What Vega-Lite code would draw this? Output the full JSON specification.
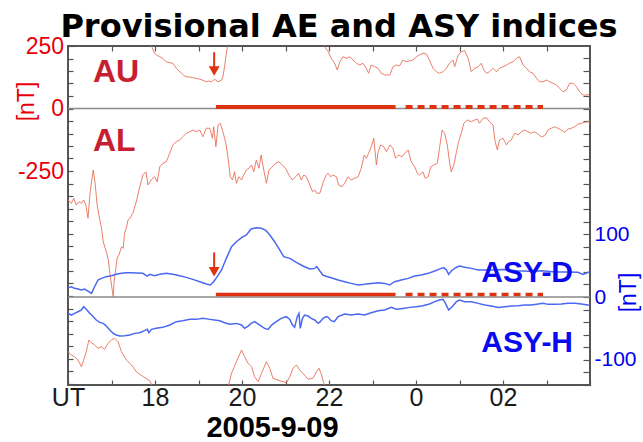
{
  "$schema": "https://vega.github.io/schema/vega-lite/v6.json",
  "width": 522,
  "height": 339,
  "autosize": {"type": "none"},
  "padding": {"left": 68, "top": 46, "right": 53, "bottom": 57},
  "background": "white",
  "config": {"view": {"stroke": "#555555", "strokeWidth": 2}, "font": "Liberation Sans"},
  "title": {"text": "Provisional AE and ASY indices", "font": "DejaVu Sans", "fontSize": 32, "fontWeight": "bold", "color": "black", "anchor": "middle", "dx": 10, "dy": 43, "offset": 9, "baseline": "alphabetic"},
  "datasets": {
    "ae": [
      {"h":17.90,"v":262,"s":"AU1"},{"h":17.93,"v":245,"s":"AU1"},{"h":17.99,"v":221,"s":"AU1"},{"h":18.05,"v":212,"s":"AU1"},{"h":18.11,"v":207,"s":"AU1"},{"h":18.18,"v":200,"s":"AU1"},{"h":18.26,"v":187,"s":"AU1"},{"h":18.34,"v":183,"s":"AU1"},{"h":18.41,"v":181,"s":"AU1"},{"h":18.49,"v":161,"s":"AU1"},{"h":18.55,"v":150,"s":"AU1"},{"h":18.61,"v":141,"s":"AU1"},{"h":18.66,"v":132,"s":"AU1"},{"h":18.72,"v":127,"s":"AU1"},{"h":18.80,"v":126,"s":"AU1"},{"h":18.87,"v":123,"s":"AU1"},{"h":18.95,"v":121,"s":"AU1"},{"h":19.03,"v":117,"s":"AU1"},{"h":19.10,"v":113,"s":"AU1"},{"h":19.18,"v":107,"s":"AU1"},{"h":19.24,"v":110,"s":"AU1"},{"h":19.30,"v":107,"s":"AU1"},{"h":19.37,"v":117,"s":"AU1"},{"h":19.45,"v":107,"s":"AU1"},{"h":19.53,"v":113,"s":"AU1"},{"h":19.56,"v":127,"s":"AU1"},{"h":19.60,"v":167,"s":"AU1"},{"h":19.64,"v":221,"s":"AU1"},{"h":19.68,"v":262,"s":"AU1"},
      {"h":21.88,"v":262,"s":"AU2"},{"h":21.90,"v":247,"s":"AU2"},{"h":21.98,"v":227,"s":"AU2"},{"h":22.05,"v":201,"s":"AU2"},{"h":22.13,"v":181,"s":"AU2"},{"h":22.19,"v":154,"s":"AU2"},{"h":22.25,"v":187,"s":"AU2"},{"h":22.32,"v":207,"s":"AU2"},{"h":22.40,"v":201,"s":"AU2"},{"h":22.48,"v":207,"s":"AU2"},{"h":22.55,"v":194,"s":"AU2"},{"h":22.63,"v":181,"s":"AU2"},{"h":22.71,"v":174,"s":"AU2"},{"h":22.78,"v":181,"s":"AU2"},{"h":22.86,"v":161,"s":"AU2"},{"h":22.91,"v":141,"s":"AU2"},{"h":22.97,"v":174,"s":"AU2"},{"h":23.05,"v":167,"s":"AU2"},{"h":23.13,"v":161,"s":"AU2"},{"h":23.20,"v":141,"s":"AU2"},{"h":23.28,"v":134,"s":"AU2"},{"h":23.40,"v":134,"s":"AU2"},{"h":23.47,"v":167,"s":"AU2"},{"h":23.55,"v":174,"s":"AU2"},{"h":23.62,"v":170,"s":"AU2"},{"h":23.70,"v":194,"s":"AU2"},{"h":23.78,"v":187,"s":"AU2"},{"h":23.86,"v":191,"s":"AU2"},{"h":23.93,"v":194,"s":"AU2"},{"h":24.01,"v":207,"s":"AU2"},{"h":24.08,"v":214,"s":"AU2"},{"h":24.16,"v":221,"s":"AU2"},{"h":24.24,"v":218,"s":"AU2"},{"h":24.31,"v":194,"s":"AU2"},{"h":24.39,"v":161,"s":"AU2"},{"h":24.47,"v":147,"s":"AU2"},{"h":24.54,"v":141,"s":"AU2"},{"h":24.62,"v":147,"s":"AU2"},{"h":24.70,"v":161,"s":"AU2"},{"h":24.77,"v":181,"s":"AU2"},{"h":24.85,"v":194,"s":"AU2"},{"h":24.89,"v":167,"s":"AU2"},{"h":24.97,"v":214,"s":"AU2"},{"h":25.04,"v":227,"s":"AU2"},{"h":25.12,"v":231,"s":"AU2"},{"h":25.20,"v":201,"s":"AU2"},{"h":25.27,"v":147,"s":"AU2"},{"h":25.35,"v":161,"s":"AU2"},{"h":25.43,"v":167,"s":"AU2"},{"h":25.50,"v":181,"s":"AU2"},{"h":25.56,"v":154,"s":"AU2"},{"h":25.62,"v":141,"s":"AU2"},{"h":25.69,"v":147,"s":"AU2"},{"h":25.77,"v":161,"s":"AU2"},{"h":25.85,"v":147,"s":"AU2"},{"h":25.92,"v":161,"s":"AU2"},{"h":26.00,"v":167,"s":"AU2"},{"h":26.08,"v":174,"s":"AU2"},{"h":26.15,"v":181,"s":"AU2"},{"h":26.23,"v":187,"s":"AU2"},{"h":26.31,"v":201,"s":"AU2"},{"h":26.38,"v":207,"s":"AU2"},{"h":26.46,"v":174,"s":"AU2"},{"h":26.54,"v":161,"s":"AU2"},{"h":26.61,"v":147,"s":"AU2"},{"h":26.69,"v":141,"s":"AU2"},{"h":26.77,"v":121,"s":"AU2"},{"h":26.84,"v":107,"s":"AU2"},{"h":26.92,"v":107,"s":"AU2"},{"h":27.00,"v":114,"s":"AU2"},{"h":27.07,"v":107,"s":"AU2"},{"h":27.15,"v":101,"s":"AU2"},{"h":27.23,"v":94,"s":"AU2"},{"h":27.30,"v":81,"s":"AU2"},{"h":27.38,"v":67,"s":"AU2"},{"h":27.46,"v":74,"s":"AU2"},{"h":27.53,"v":101,"s":"AU2"},{"h":27.61,"v":101,"s":"AU2"},{"h":27.69,"v":87,"s":"AU2"},{"h":27.76,"v":67,"s":"AU2"},{"h":27.84,"v":54,"s":"AU2"},{"h":27.92,"v":54,"s":"AU2"},{"h":28.00,"v":58,"s":"AU2"},
      {"h":16.00,"v":-973,"s":"AUw1"},{"h":16.08,"v":-986,"s":"AUw1"},{"h":16.15,"v":-993,"s":"AUw1"},{"h":16.23,"v":-1006,"s":"AUw1"},{"h":16.31,"v":-1033,"s":"AUw1"},{"h":16.36,"v":-1006,"s":"AUw1"},{"h":16.42,"v":-973,"s":"AUw1"},{"h":16.48,"v":-926,"s":"AUw1"},{"h":16.54,"v":-937,"s":"AUw1"},{"h":16.61,"v":-946,"s":"AUw1"},{"h":16.69,"v":-959,"s":"AUw1"},{"h":16.77,"v":-953,"s":"AUw1"},{"h":16.84,"v":-963,"s":"AUw1"},{"h":16.92,"v":-939,"s":"AUw1"},{"h":17.00,"v":-926,"s":"AUw1"},{"h":17.07,"v":-919,"s":"AUw1"},{"h":17.15,"v":-933,"s":"AUw1"},{"h":17.23,"v":-973,"s":"AUw1"},{"h":17.34,"v":-1006,"s":"AUw1"},{"h":17.46,"v":-1026,"s":"AUw1"},{"h":17.57,"v":-1053,"s":"AUw1"},{"h":17.73,"v":-1073,"s":"AUw1"},{"h":17.88,"v":-1089,"s":"AUw1"},{"h":17.95,"v":-1115,"s":"AUw1"},
      {"h":19.68,"v":-1115,"s":"AUw2"},{"h":19.76,"v":-1059,"s":"AUw2"},{"h":19.87,"v":-1013,"s":"AUw2"},{"h":19.99,"v":-966,"s":"AUw2"},{"h":20.06,"v":-993,"s":"AUw2"},{"h":20.14,"v":-1019,"s":"AUw2"},{"h":20.22,"v":-1033,"s":"AUw2"},{"h":20.29,"v":-1073,"s":"AUw2"},{"h":20.37,"v":-1093,"s":"AUw2"},{"h":20.45,"v":-1059,"s":"AUw2"},{"h":20.56,"v":-1013,"s":"AUw2"},{"h":20.64,"v":-1039,"s":"AUw2"},{"h":20.71,"v":-1079,"s":"AUw2"},{"h":20.87,"v":-1089,"s":"AUw2"},{"h":21.02,"v":-1097,"s":"AUw2"},{"h":21.10,"v":-1073,"s":"AUw2"},{"h":21.17,"v":-1039,"s":"AUw2"},{"h":21.25,"v":-1026,"s":"AUw2"},{"h":21.33,"v":-1046,"s":"AUw2"},{"h":21.40,"v":-1059,"s":"AUw2"},{"h":21.52,"v":-1083,"s":"AUw2"},{"h":21.63,"v":-1079,"s":"AUw2"},{"h":21.71,"v":-1053,"s":"AUw2"},{"h":21.77,"v":-1039,"s":"AUw2"},{"h":21.83,"v":-1066,"s":"AUw2"},{"h":21.87,"v":-1093,"s":"AUw2"},{"h":21.91,"v":-1115,"s":"AUw2"},
      {"h":16.00,"v":-366,"s":"AL"},{"h":16.08,"v":-379,"s":"AL"},{"h":16.13,"v":-359,"s":"AL"},{"h":16.19,"v":-386,"s":"AL"},{"h":16.25,"v":-373,"s":"AL"},{"h":16.31,"v":-379,"s":"AL"},{"h":16.36,"v":-366,"s":"AL"},{"h":16.41,"v":-386,"s":"AL"},{"h":16.46,"v":-439,"s":"AL"},{"h":16.51,"v":-333,"s":"AL"},{"h":16.58,"v":-246,"s":"AL"},{"h":16.62,"v":-293,"s":"AL"},{"h":16.67,"v":-386,"s":"AL"},{"h":16.71,"v":-426,"s":"AL"},{"h":16.77,"v":-479,"s":"AL"},{"h":16.81,"v":-533,"s":"AL"},{"h":16.88,"v":-573,"s":"AL"},{"h":16.92,"v":-599,"s":"AL"},{"h":16.96,"v":-653,"s":"AL"},{"h":17.00,"v":-706,"s":"AL"},{"h":17.04,"v":-753,"s":"AL"},{"h":17.06,"v":-693,"s":"AL"},{"h":17.10,"v":-639,"s":"AL"},{"h":17.13,"v":-599,"s":"AL"},{"h":17.17,"v":-586,"s":"AL"},{"h":17.23,"v":-553,"s":"AL"},{"h":17.27,"v":-559,"s":"AL"},{"h":17.30,"v":-499,"s":"AL"},{"h":17.34,"v":-479,"s":"AL"},{"h":17.38,"v":-446,"s":"AL"},{"h":17.42,"v":-440,"s":"AL"},{"h":17.49,"v":-419,"s":"AL"},{"h":17.57,"v":-373,"s":"AL"},{"h":17.65,"v":-313,"s":"AL"},{"h":17.72,"v":-266,"s":"AL"},{"h":17.79,"v":-253,"s":"AL"},{"h":17.84,"v":-306,"s":"AL"},{"h":17.91,"v":-286,"s":"AL"},{"h":17.99,"v":-273,"s":"AL"},{"h":18.05,"v":-293,"s":"AL"},{"h":18.11,"v":-233,"s":"AL"},{"h":18.18,"v":-219,"s":"AL"},{"h":18.26,"v":-213,"s":"AL"},{"h":18.34,"v":-179,"s":"AL"},{"h":18.41,"v":-146,"s":"AL"},{"h":18.49,"v":-133,"s":"AL"},{"h":18.57,"v":-126,"s":"AL"},{"h":18.64,"v":-113,"s":"AL"},{"h":18.72,"v":-99,"s":"AL"},{"h":18.80,"v":-93,"s":"AL"},{"h":18.87,"v":-86,"s":"AL"},{"h":18.95,"v":-93,"s":"AL"},{"h":19.03,"v":-86,"s":"AL"},{"h":19.10,"v":-113,"s":"AL"},{"h":19.18,"v":-79,"s":"AL"},{"h":19.26,"v":-79,"s":"AL"},{"h":19.32,"v":-119,"s":"AL"},{"h":19.35,"v":-73,"s":"AL"},{"h":19.40,"v":-153,"s":"AL"},{"h":19.45,"v":-66,"s":"AL"},{"h":19.50,"v":-59,"s":"AL"},{"h":19.56,"v":-93,"s":"AL"},{"h":19.63,"v":-139,"s":"AL"},{"h":19.68,"v":-199,"s":"AL"},{"h":19.73,"v":-273,"s":"AL"},{"h":19.78,"v":-286,"s":"AL"},{"h":19.83,"v":-253,"s":"AL"},{"h":19.87,"v":-299,"s":"AL"},{"h":19.93,"v":-273,"s":"AL"},{"h":19.99,"v":-286,"s":"AL"},{"h":20.04,"v":-266,"s":"AL"},{"h":20.10,"v":-246,"s":"AL"},{"h":20.16,"v":-239,"s":"AL"},{"h":20.22,"v":-226,"s":"AL"},{"h":20.27,"v":-253,"s":"AL"},{"h":20.33,"v":-206,"s":"AL"},{"h":20.39,"v":-239,"s":"AL"},{"h":20.44,"v":-186,"s":"AL"},{"h":20.50,"v":-246,"s":"AL"},{"h":20.56,"v":-299,"s":"AL"},{"h":20.62,"v":-246,"s":"AL"},{"h":20.70,"v":-233,"s":"AL"},{"h":20.77,"v":-219,"s":"AL"},{"h":20.85,"v":-213,"s":"AL"},{"h":20.93,"v":-226,"s":"AL"},{"h":21.00,"v":-239,"s":"AL"},{"h":21.08,"v":-266,"s":"AL"},{"h":21.16,"v":-286,"s":"AL"},{"h":21.23,"v":-273,"s":"AL"},{"h":21.30,"v":-259,"s":"AL"},{"h":21.36,"v":-286,"s":"AL"},{"h":21.42,"v":-266,"s":"AL"},{"h":21.48,"v":-273,"s":"AL"},{"h":21.56,"v":-306,"s":"AL"},{"h":21.62,"v":-333,"s":"AL"},{"h":21.67,"v":-326,"s":"AL"},{"h":21.72,"v":-339,"s":"AL"},{"h":21.79,"v":-339,"s":"AL"},{"h":21.87,"v":-293,"s":"AL"},{"h":21.94,"v":-265,"s":"AL"},{"h":21.98,"v":-259,"s":"AL"},{"h":22.04,"v":-273,"s":"AL"},{"h":22.09,"v":-266,"s":"AL"},{"h":22.17,"v":-273,"s":"AL"},{"h":22.22,"v":-306,"s":"AL"},{"h":22.30,"v":-313,"s":"AL"},{"h":22.36,"v":-299,"s":"AL"},{"h":22.44,"v":-273,"s":"AL"},{"h":22.51,"v":-286,"s":"AL"},{"h":22.59,"v":-279,"s":"AL"},{"h":22.67,"v":-273,"s":"AL"},{"h":22.74,"v":-239,"s":"AL"},{"h":22.81,"v":-186,"s":"AL"},{"h":22.86,"v":-199,"s":"AL"},{"h":22.91,"v":-179,"s":"AL"},{"h":22.97,"v":-153,"s":"AL"},{"h":23.03,"v":-119,"s":"AL"},{"h":23.09,"v":-226,"s":"AL"},{"h":23.13,"v":-173,"s":"AL"},{"h":23.19,"v":-146,"s":"AL"},{"h":23.26,"v":-153,"s":"AL"},{"h":23.32,"v":-173,"s":"AL"},{"h":23.40,"v":-146,"s":"AL"},{"h":23.47,"v":-159,"s":"AL"},{"h":23.53,"v":-199,"s":"AL"},{"h":23.60,"v":-186,"s":"AL"},{"h":23.68,"v":-193,"s":"AL"},{"h":23.74,"v":-179,"s":"AL"},{"h":23.82,"v":-166,"s":"AL"},{"h":23.89,"v":-213,"s":"AL"},{"h":23.97,"v":-233,"s":"AL"},{"h":24.03,"v":-259,"s":"AL"},{"h":24.08,"v":-266,"s":"AL"},{"h":24.16,"v":-253,"s":"AL"},{"h":24.21,"v":-279,"s":"AL"},{"h":24.28,"v":-273,"s":"AL"},{"h":24.34,"v":-233,"s":"AL"},{"h":24.41,"v":-226,"s":"AL"},{"h":24.49,"v":-219,"s":"AL"},{"h":24.54,"v":-159,"s":"AL"},{"h":24.60,"v":-86,"s":"AL"},{"h":24.66,"v":-99,"s":"AL"},{"h":24.72,"v":-146,"s":"AL"},{"h":24.77,"v":-213,"s":"AL"},{"h":24.81,"v":-253,"s":"AL"},{"h":24.87,"v":-226,"s":"AL"},{"h":24.93,"v":-173,"s":"AL"},{"h":24.98,"v":-133,"s":"AL"},{"h":25.04,"v":-99,"s":"AL"},{"h":25.10,"v":-59,"s":"AL"},{"h":25.18,"v":-46,"s":"AL"},{"h":25.27,"v":-53,"s":"AL"},{"h":25.35,"v":-46,"s":"AL"},{"h":25.41,"v":-42,"s":"AL"},{"h":25.46,"v":-59,"s":"AL"},{"h":25.54,"v":-39,"s":"AL"},{"h":25.62,"v":-37,"s":"AL"},{"h":25.69,"v":-53,"s":"AL"},{"h":25.77,"v":-66,"s":"AL"},{"h":25.82,"v":-133,"s":"AL"},{"h":25.87,"v":-166,"s":"AL"},{"h":25.92,"v":-126,"s":"AL"},{"h":26.00,"v":-119,"s":"AL"},{"h":26.08,"v":-146,"s":"AL"},{"h":26.13,"v":-133,"s":"AL"},{"h":26.19,"v":-126,"s":"AL"},{"h":26.27,"v":-99,"s":"AL"},{"h":26.35,"v":-106,"s":"AL"},{"h":26.42,"v":-93,"s":"AL"},{"h":26.50,"v":-86,"s":"AL"},{"h":26.57,"v":-93,"s":"AL"},{"h":26.65,"v":-99,"s":"AL"},{"h":26.73,"v":-93,"s":"AL"},{"h":26.81,"v":-103,"s":"AL"},{"h":26.88,"v":-113,"s":"AL"},{"h":26.96,"v":-109,"s":"AL"},{"h":27.03,"v":-86,"s":"AL"},{"h":27.11,"v":-79,"s":"AL"},{"h":27.19,"v":-73,"s":"AL"},{"h":27.26,"v":-79,"s":"AL"},{"h":27.34,"v":-86,"s":"AL"},{"h":27.42,"v":-95,"s":"AL"},{"h":27.50,"v":-82,"s":"AL"},{"h":27.57,"v":-79,"s":"AL"},{"h":27.65,"v":-73,"s":"AL"},{"h":27.72,"v":-63,"s":"AL"},{"h":27.80,"v":-59,"s":"AL"},{"h":27.88,"v":-55,"s":"AL"},{"h":27.95,"v":-53,"s":"AL"},{"h":28.00,"v":-52,"s":"AL"}
    ],
    "asy": [
      {"h":16.00,"v":14.8,"s":"D"},{"h":16.08,"v":16.4,"s":"D"},{"h":16.15,"v":13.8,"s":"D"},{"h":16.23,"v":12.7,"s":"D"},{"h":16.31,"v":11.1,"s":"D"},{"h":16.38,"v":12.7,"s":"D"},{"h":16.46,"v":9.5,"s":"D"},{"h":16.54,"v":5.8,"s":"D"},{"h":16.61,"v":16.4,"s":"D"},{"h":16.69,"v":27.1,"s":"D"},{"h":16.77,"v":29.7,"s":"D"},{"h":16.88,"v":32.4,"s":"D"},{"h":17.00,"v":34.0,"s":"D"},{"h":17.11,"v":36.1,"s":"D"},{"h":17.23,"v":37.7,"s":"D"},{"h":17.34,"v":38.7,"s":"D"},{"h":17.46,"v":38.7,"s":"D"},{"h":17.57,"v":38.2,"s":"D"},{"h":17.72,"v":37.7,"s":"D"},{"h":17.82,"v":33.4,"s":"D"},{"h":17.88,"v":36.1,"s":"D"},{"h":17.99,"v":34.0,"s":"D"},{"h":18.11,"v":36.1,"s":"D"},{"h":18.26,"v":37.7,"s":"D"},{"h":18.41,"v":36.1,"s":"D"},{"h":18.57,"v":34.0,"s":"D"},{"h":18.72,"v":31.3,"s":"D"},{"h":18.87,"v":28.1,"s":"D"},{"h":19.03,"v":24.4,"s":"D"},{"h":19.18,"v":20.7,"s":"D"},{"h":19.27,"v":19.1,"s":"D"},{"h":19.35,"v":24.4,"s":"D"},{"h":19.43,"v":32.4,"s":"D"},{"h":19.53,"v":43.0,"s":"D"},{"h":19.64,"v":61.6,"s":"D"},{"h":19.76,"v":80.2,"s":"D"},{"h":19.87,"v":88.1,"s":"D"},{"h":19.99,"v":94.5,"s":"D"},{"h":20.10,"v":98.7,"s":"D"},{"h":20.21,"v":108.3,"s":"D"},{"h":20.33,"v":110.4,"s":"D"},{"h":20.44,"v":109.4,"s":"D"},{"h":20.54,"v":106.7,"s":"D"},{"h":20.64,"v":98.7,"s":"D"},{"h":20.75,"v":88.1,"s":"D"},{"h":20.87,"v":74.8,"s":"D"},{"h":20.96,"v":64.2,"s":"D"},{"h":21.10,"v":61.6,"s":"D"},{"h":21.25,"v":55.2,"s":"D"},{"h":21.40,"v":49.4,"s":"D"},{"h":21.56,"v":44.6,"s":"D"},{"h":21.67,"v":45.6,"s":"D"},{"h":21.72,"v":48.3,"s":"D"},{"h":21.79,"v":41.4,"s":"D"},{"h":21.86,"v":35.0,"s":"D"},{"h":21.93,"v":33.0,"s":"D"},{"h":22.05,"v":30.8,"s":"D"},{"h":22.21,"v":27.1,"s":"D"},{"h":22.36,"v":24.4,"s":"D"},{"h":22.51,"v":21.7,"s":"D"},{"h":22.67,"v":19.1,"s":"D"},{"h":22.82,"v":20.2,"s":"D"},{"h":22.97,"v":21.7,"s":"D"},{"h":23.13,"v":22.8,"s":"D"},{"h":23.28,"v":21.7,"s":"D"},{"h":23.39,"v":19.1,"s":"D"},{"h":23.51,"v":24.4,"s":"D"},{"h":23.66,"v":27.1,"s":"D"},{"h":23.82,"v":29.7,"s":"D"},{"h":23.97,"v":33.4,"s":"D"},{"h":24.12,"v":35.0,"s":"D"},{"h":24.28,"v":37.7,"s":"D"},{"h":24.43,"v":41.4,"s":"D"},{"h":24.58,"v":45.6,"s":"D"},{"h":24.64,"v":46.7,"s":"D"},{"h":24.70,"v":43.0,"s":"D"},{"h":24.75,"v":36.1,"s":"D"},{"h":24.81,"v":41.4,"s":"D"},{"h":24.91,"v":46.7,"s":"D"},{"h":25.00,"v":49.4,"s":"D"},{"h":25.12,"v":47.3,"s":"D"},{"h":25.27,"v":45.6,"s":"D"},{"h":25.43,"v":43.0,"s":"D"},{"h":25.70,"v":43.0,"s":"D"},{"h":26.00,"v":44.0,"s":"D"},{"h":26.30,"v":42.0,"s":"D"},{"h":26.60,"v":41.0,"s":"D"},{"h":26.90,"v":42.0,"s":"D"},{"h":27.20,"v":40.0,"s":"D"},{"h":27.50,"v":40.0,"s":"D"},{"h":27.72,"v":39.3,"s":"D"},{"h":27.84,"v":36.1,"s":"D"},{"h":27.96,"v":39.3,"s":"D"},{"h":28.00,"v":40.0,"s":"D"},
      {"h":16.00,"v":-26.0,"s":"H"},{"h":16.08,"v":-28.7,"s":"H"},{"h":16.15,"v":-26.0,"s":"H"},{"h":16.23,"v":-23.4,"s":"H"},{"h":16.31,"v":-20.7,"s":"H"},{"h":16.36,"v":-15.4,"s":"H"},{"h":16.42,"v":-19.6,"s":"H"},{"h":16.50,"v":-26.0,"s":"H"},{"h":16.58,"v":-31.3,"s":"H"},{"h":16.65,"v":-36.6,"s":"H"},{"h":16.73,"v":-40.4,"s":"H"},{"h":16.81,"v":-42.0,"s":"H"},{"h":16.88,"v":-46.2,"s":"H"},{"h":16.96,"v":-52.6,"s":"H"},{"h":17.04,"v":-57.9,"s":"H"},{"h":17.11,"v":-60.5,"s":"H"},{"h":17.19,"v":-62.1,"s":"H"},{"h":17.30,"v":-61.6,"s":"H"},{"h":17.42,"v":-60.5,"s":"H"},{"h":17.53,"v":-57.9,"s":"H"},{"h":17.65,"v":-56.8,"s":"H"},{"h":17.76,"v":-53.6,"s":"H"},{"h":17.82,"v":-51.5,"s":"H"},{"h":17.86,"v":-56.8,"s":"H"},{"h":17.92,"v":-51.5,"s":"H"},{"h":18.03,"v":-49.9,"s":"H"},{"h":18.18,"v":-48.3,"s":"H"},{"h":18.34,"v":-44.6,"s":"H"},{"h":18.49,"v":-39.3,"s":"H"},{"h":18.64,"v":-37.7,"s":"H"},{"h":18.80,"v":-35.6,"s":"H"},{"h":18.95,"v":-35.6,"s":"H"},{"h":19.10,"v":-34.0,"s":"H"},{"h":19.26,"v":-35.6,"s":"H"},{"h":19.37,"v":-36.6,"s":"H"},{"h":19.49,"v":-37.7,"s":"H"},{"h":19.60,"v":-40.9,"s":"H"},{"h":19.72,"v":-43.5,"s":"H"},{"h":19.87,"v":-42.0,"s":"H"},{"h":19.99,"v":-44.6,"s":"H"},{"h":20.06,"v":-49.9,"s":"H"},{"h":20.14,"v":-46.2,"s":"H"},{"h":20.21,"v":-42.0,"s":"H"},{"h":20.29,"v":-39.3,"s":"H"},{"h":20.41,"v":-44.6,"s":"H"},{"h":20.52,"v":-49.9,"s":"H"},{"h":20.60,"v":-51.5,"s":"H"},{"h":20.68,"v":-44.6,"s":"H"},{"h":20.79,"v":-39.3,"s":"H"},{"h":20.90,"v":-34.0,"s":"H"},{"h":21.02,"v":-31.3,"s":"H"},{"h":21.10,"v":-35.6,"s":"H"},{"h":21.16,"v":-44.6,"s":"H"},{"h":21.21,"v":-48.3,"s":"H"},{"h":21.27,"v":-31.3,"s":"H"},{"h":21.31,"v":-26.0,"s":"H"},{"h":21.34,"v":-49.9,"s":"H"},{"h":21.39,"v":-34.0,"s":"H"},{"h":21.44,"v":-28.7,"s":"H"},{"h":21.52,"v":-30.3,"s":"H"},{"h":21.59,"v":-34.0,"s":"H"},{"h":21.67,"v":-36.6,"s":"H"},{"h":21.75,"v":-41.9,"s":"H"},{"h":21.80,"v":-39.3,"s":"H"},{"h":21.86,"v":-34.0,"s":"H"},{"h":21.94,"v":-31.3,"s":"H"},{"h":21.98,"v":-32.4,"s":"H"},{"h":22.05,"v":-37.7,"s":"H"},{"h":22.12,"v":-39.3,"s":"H"},{"h":22.21,"v":-31.3,"s":"H"},{"h":22.36,"v":-27.1,"s":"H"},{"h":22.51,"v":-28.7,"s":"H"},{"h":22.67,"v":-27.1,"s":"H"},{"h":22.82,"v":-28.7,"s":"H"},{"h":22.97,"v":-25.0,"s":"H"},{"h":23.13,"v":-21.8,"s":"H"},{"h":23.28,"v":-20.7,"s":"H"},{"h":23.43,"v":-16.5,"s":"H"},{"h":23.55,"v":-19.6,"s":"H"},{"h":23.70,"v":-18.1,"s":"H"},{"h":23.86,"v":-16.5,"s":"H"},{"h":24.01,"v":-15.4,"s":"H"},{"h":24.16,"v":-13.8,"s":"H"},{"h":24.31,"v":-11.1,"s":"H"},{"h":24.43,"v":-7.4,"s":"H"},{"h":24.54,"v":-4.8,"s":"H"},{"h":24.62,"v":-3.7,"s":"H"},{"h":24.67,"v":-9.0,"s":"H"},{"h":24.75,"v":-20.7,"s":"H"},{"h":24.83,"v":-15.4,"s":"H"},{"h":24.93,"v":-7.4,"s":"H"},{"h":25.00,"v":-4.8,"s":"H"},{"h":25.12,"v":-7.4,"s":"H"},{"h":25.27,"v":-7.4,"s":"H"},{"h":25.43,"v":-10.1,"s":"H"},{"h":25.58,"v":-12.7,"s":"H"},{"h":25.73,"v":-14.3,"s":"H"},{"h":25.89,"v":-16.5,"s":"H"},{"h":26.04,"v":-15.4,"s":"H"},{"h":26.19,"v":-14.3,"s":"H"},{"h":26.35,"v":-13.8,"s":"H"},{"h":26.50,"v":-12.7,"s":"H"},{"h":26.65,"v":-12.7,"s":"H"},{"h":26.81,"v":-11.1,"s":"H"},{"h":26.92,"v":-10.1,"s":"H"},{"h":27.04,"v":-11.7,"s":"H"},{"h":27.19,"v":-11.7,"s":"H"},{"h":27.34,"v":-11.1,"s":"H"},{"h":27.49,"v":-10.1,"s":"H"},{"h":27.65,"v":-10.1,"s":"H"},{"h":27.80,"v":-11.1,"s":"H"},{"h":27.95,"v":-12.7,"s":"H"},{"h":28.00,"v":-12.9,"s":"H"}
    ]
  },
  "layer": [
    {
      "data": {"values": [{"h": 16, "v": 0}, {"h": 28, "v": 0}]},
      "mark": {"type": "rule", "color": "#8a8a8a", "strokeWidth": 1.5},
      "encoding": {
        "x": {"aggregate": "min", "field": "h", "type": "quantitative", "scale": {"domain": [16, 28], "nice": false, "zero": false},
          "axis": {"orient": "bottom", "values": [16,17,18,19,20,21,22,23,24,25,26,27,28],
            "labelExpr": "datum.value==16?'UT':datum.value==18?'18':datum.value==20?'20':datum.value==22?'22':datum.value==24?'0':datum.value==26?'02':''",
            "labelFont": "Liberation Sans", "labelFontSize": 25, "labelColor": "#1a1a1a", "labelPadding": 5, "labelFlush": false, "labelOverlap": false, "labelBound": false,
            "tickSize": -5, "tickColor": "#555555", "tickWidth": 1.2, "domain": false, "grid": false,
            "title": "2005-9-09", "titleFont": "Liberation Sans", "titleFontSize": 29, "titleFontWeight": "bold", "titleColor": "black", "titleX": 204, "titleY": 51, "titleAlign": "center", "titleBaseline": "alphabetic"}},
        "x2": {"aggregate": "max", "field": "h"},
        "y": {"field": "v", "type": "quantitative", "scale": {"domain": [-1106, 250], "nice": false, "zero": false},
          "axis": {"orient": "left", "values": [-1100,-1050,-1000,-950,-900,-850,-800,-750,-700,-650,-600,-550,-500,-450,-400,-350,-300,-250,-200,-150,-100,-50,0,50,100,150,200,250],
            "labelExpr": "datum.value==250?'250':datum.value==0?'0':datum.value==-250?'-250':''",
            "labelFont": "Liberation Sans", "labelFontSize": 23, "labelColor": "#e8000b", "labelPadding": 9.5, "labelOverlap": false, "labelBound": false, "labelFlush": false,
            "tickSize": -5, "tickColor": "#555555", "tickWidth": 1.2, "domain": false, "grid": false,
            "title": "[nT]", "titleFont": "Liberation Sans", "titleFontSize": 23, "titleFontWeight": "normal", "titleColor": "#e8000b", "titleAngle": -90, "titleX": -42, "titleY": 55, "titleAlign": "center", "titleBaseline": "middle"}}
      }
    },
    {
      "data": {"values": [{"h": 16, "v": 0}, {"h": 28, "v": 0}]},
      "mark": {"type": "rule", "color": "#8a8a8a", "strokeWidth": 1.5},
      "encoding": {
        "x": {"aggregate": "min", "field": "h", "type": "quantitative",
          "axis": {"orient": "top", "values": [17,18,19,20,21,22,23,24,25,26,27], "labels": false, "tickSize": -5, "tickColor": "#555555", "tickWidth": 1.2, "domain": false, "grid": false, "title": null}},
        "x2": {"aggregate": "max", "field": "h"},
        "y": {"field": "v", "type": "quantitative", "scale": {"domain": [-140.1, 399.7], "nice": false, "zero": false},
          "axis": {"orient": "right", "values": [-140,-120,-100,-80,-60,-40,-20,0,20,40,60,80,100,120,140,160,180,200,220,240,260,280,300,320,340,360,380],
            "labelExpr": "datum.value==100?'100':datum.value==0?'0':datum.value==-100?'-100':''",
            "labelFont": "Liberation Sans", "labelFontSize": 21, "labelColor": "#0000ee", "labelPadding": 11, "labelOverlap": false, "labelBound": false, "labelFlush": false,
            "tickSize": -7, "tickColor": "#555555", "tickWidth": 1.2, "domain": false, "grid": false,
            "title": "[nT]", "titleFont": "Liberation Sans", "titleFontSize": 23, "titleFontWeight": "normal", "titleColor": "#0000ee", "titleAngle": -90, "titleX": 38, "titleY": 246, "titleAlign": "center", "titleBaseline": "middle"}}
      }
    },
    {
      "data": {"name": "ae"},
      "mark": {"type": "line", "clip": true, "strokeWidth": 0.9, "color": "#e8705a"},
      "encoding": {
        "x": {"field": "h", "type": "quantitative", "axis": null},
        "y": {"field": "v", "type": "quantitative", "scale": {"domain": [-1106, 250], "nice": false, "zero": false}, "axis": null},
        "detail": {"field": "s", "type": "nominal"}
      }
    },
    {
      "data": {"name": "asy"},
      "mark": {"type": "line", "clip": true, "strokeWidth": 1.5, "color": "#4a68f0"},
      "encoding": {
        "x": {"field": "h", "type": "quantitative", "axis": null},
        "y": {"field": "v", "type": "quantitative", "scale": {"domain": [-140.1, 399.7], "nice": false, "zero": false}, "axis": null},
        "detail": {"field": "s", "type": "nominal"}
      }
    },
    {
      "data": {"values": [{"h1": 19.40, "h2": 23.53, "v": 6, "d": "solid"}, {"h1": 23.76, "h2": 26.92, "v": 6, "d": "dashed"}]},
      "mark": {"type": "rule", "color": "#dd3311", "strokeWidth": 4},
      "encoding": {
        "x": {"field": "h1", "type": "quantitative", "axis": null}, "x2": {"field": "h2"},
        "y": {"field": "v", "type": "quantitative", "scale": {"domain": [-1106, 250], "nice": false, "zero": false}, "axis": null},
        "strokeDash": {"field": "d", "type": "nominal", "scale": {"domain": ["solid", "dashed"], "range": [[1, 0], [7, 5]]}, "legend": null}
      }
    },
    {
      "data": {"values": [{"h1": 19.40, "h2": 23.53, "v": 4, "d": "solid"}, {"h1": 23.76, "h2": 26.92, "v": 4, "d": "dashed"}]},
      "mark": {"type": "rule", "color": "#dd3311", "strokeWidth": 3.5},
      "encoding": {
        "x": {"field": "h1", "type": "quantitative", "axis": null}, "x2": {"field": "h2"},
        "y": {"field": "v", "type": "quantitative", "scale": {"domain": [-140.1, 399.7], "nice": false, "zero": false}, "axis": null},
        "strokeDash": {"field": "d", "type": "nominal", "scale": {"domain": ["solid", "dashed"], "range": [[1, 0], [7, 5]]}, "legend": null}
      }
    },
    {
      "data": {"values": [{"h": 19.36, "v1": 225, "v2": 166}]},
      "mark": {"type": "rule", "color": "#dd3311", "strokeWidth": 2},
      "encoding": {
        "x": {"field": "h", "type": "quantitative", "axis": null},
        "y": {"field": "v1", "type": "quantitative", "scale": {"domain": [-1106, 250], "nice": false, "zero": false}, "axis": null}, "y2": {"field": "v2"}
      }
    },
    {
      "data": {"values": [{"h": 19.36, "v": 150}]},
      "mark": {"type": "point", "shape": "triangle-down", "filled": true, "color": "#dd3311", "size": 120, "opacity": 1},
      "encoding": {
        "x": {"field": "h", "type": "quantitative", "axis": null},
        "y": {"field": "v", "type": "quantitative", "scale": {"domain": [-1106, 250], "nice": false, "zero": false}, "axis": null}
      }
    },
    {
      "data": {"values": [{"h": 19.36, "v1": 71, "v2": 47}]},
      "mark": {"type": "rule", "color": "#dd3311", "strokeWidth": 2},
      "encoding": {
        "x": {"field": "h", "type": "quantitative", "axis": null},
        "y": {"field": "v1", "type": "quantitative", "scale": {"domain": [-140.1, 399.7], "nice": false, "zero": false}, "axis": null}, "y2": {"field": "v2"}
      }
    },
    {
      "data": {"values": [{"h": 19.36, "v": 40.3}]},
      "mark": {"type": "point", "shape": "triangle-down", "filled": true, "color": "#dd3311", "size": 120, "opacity": 1},
      "encoding": {
        "x": {"field": "h", "type": "quantitative", "axis": null},
        "y": {"field": "v", "type": "quantitative", "scale": {"domain": [-140.1, 399.7], "nice": false, "zero": false}, "axis": null}
      }
    },
    {
      "data": {"values": [{"h": 16.575, "v": 107, "label": "AU"}, {"h": 16.575, "v": -170, "label": "AL"}]},
      "mark": {"type": "text", "align": "left", "baseline": "alphabetic", "font": "Liberation Sans", "fontSize": 32, "fontWeight": "bold", "color": "#c81e32"},
      "encoding": {
        "x": {"field": "h", "type": "quantitative", "axis": null},
        "y": {"field": "v", "type": "quantitative", "scale": {"domain": [-1106, 250], "nice": false, "zero": false}, "axis": null},
        "text": {"field": "label"}
      }
    },
    {
      "data": {"values": [{"h": 27.61, "v": 24.4, "label": "ASY-D"}, {"h": 27.61, "v": -87.1, "label": "ASY-H"}]},
      "mark": {"type": "text", "align": "right", "baseline": "alphabetic", "font": "Liberation Sans", "fontSize": 30, "fontWeight": "bold", "color": "#0a0af0"},
      "encoding": {
        "x": {"field": "h", "type": "quantitative", "axis": null},
        "y": {"field": "v", "type": "quantitative", "scale": {"domain": [-140.1, 399.7], "nice": false, "zero": false}, "axis": null},
        "text": {"field": "label"}
      }
    }
  ],
  "resolve": {"scale": {"y": "independent"}, "axis": {"x": "independent", "y": "independent"}}
}
